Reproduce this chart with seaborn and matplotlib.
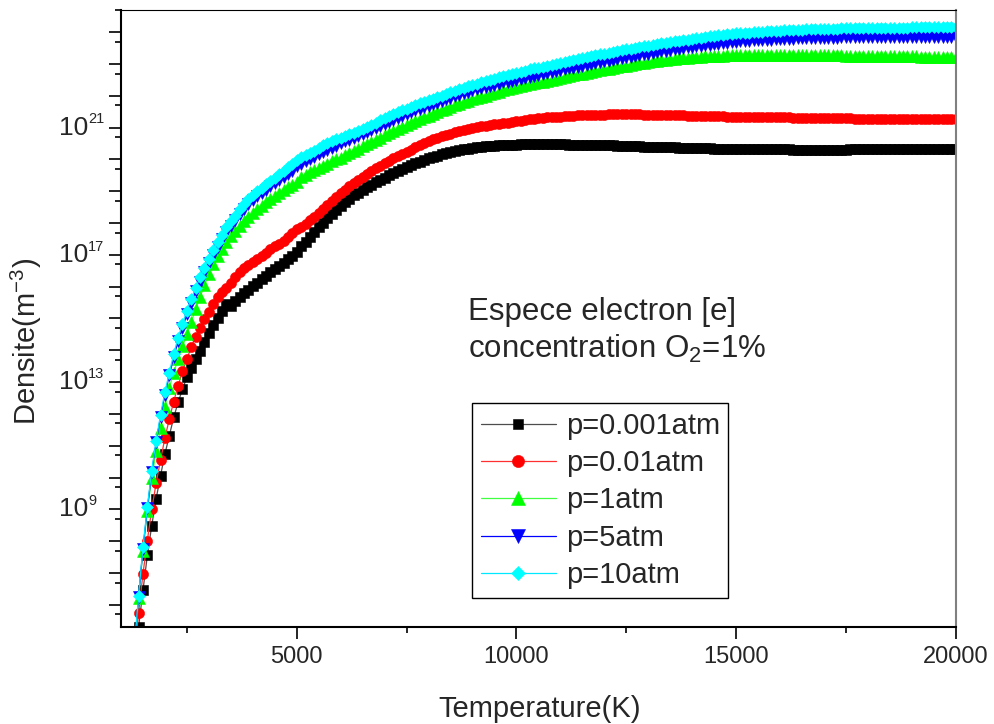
import math
import matplotlib
matplotlib.use("Agg")
import matplotlib.pyplot as plt
import matplotlib.transforms as mtransforms
import seaborn as sns
from matplotlib.ticker import FixedLocator, FuncFormatter, NullFormatter

# ---------------- data (log10 of electron density, m^-3) ----------------
temperature_K = list(range(1300, 20001, 100))

log_p0001 = [
    3.80, 5.29, 6.45, 7.55, 8.49, 9.33, 10.06,
    10.74, 11.32, 11.89, 12.36, 12.78, 13.15, 13.43, 13.72, 13.99, 14.25,
    14.53, 14.79, 15.03, 15.24, 15.45, 15.40, 15.56, 15.68, 15.80, 15.91,
    16.02, 16.13, 16.24, 16.35, 16.45, 16.55, 16.65, 16.76, 16.87, 16.98,
    17.10, 17.28, 17.42, 17.57, 17.72, 17.87, 18.01, 18.15, 18.28, 18.41,
    18.54, 18.66, 18.77, 18.87, 18.96, 19.05, 19.13, 19.21, 19.29, 19.36,
    19.43, 19.50, 19.57, 19.64, 19.71, 19.77, 19.83, 19.88, 19.93, 19.98,
    20.03, 20.08, 20.12, 20.16, 20.20, 20.23, 20.26, 20.29, 20.32, 20.34,
    20.36, 20.38, 20.40, 20.41, 20.42, 20.43, 20.44, 20.45, 20.46, 20.47,
    20.47, 20.48, 20.48, 20.49, 20.49, 20.49, 20.49, 20.49, 20.49, 20.48,
    20.48, 20.48, 20.47, 20.47, 20.47, 20.46, 20.46, 20.46, 20.45, 20.45,
    20.45, 20.44, 20.44, 20.43, 20.43, 20.42, 20.42, 20.41, 20.41, 20.40,
    20.40, 20.40, 20.39, 20.39, 20.38, 20.38, 20.38, 20.37, 20.37, 20.36,
    20.36, 20.36, 20.35, 20.35, 20.35, 20.34, 20.34, 20.34, 20.34, 20.33,
    20.33, 20.33, 20.33, 20.33, 20.32, 20.32, 20.32, 20.32, 20.32, 20.32,
    20.32, 20.32, 20.32, 20.31, 20.31, 20.31, 20.31, 20.31, 20.31, 20.31,
    20.31, 20.31, 20.31, 20.31, 20.31, 20.31, 20.32, 20.32, 20.32, 20.32,
    20.32, 20.32, 20.32, 20.32, 20.32, 20.32, 20.32, 20.32, 20.32, 20.32,
    20.32, 20.32, 20.32, 20.32, 20.32, 20.32, 20.32, 20.32, 20.32, 20.32,
    20.32,
]

log_p001 = [
    4.30, 5.74, 6.97, 8.02, 9.01, 9.82, 10.55,
    11.24, 11.84, 12.39, 12.89, 13.34, 13.72, 14.11, 14.43, 14.70, 14.98,
    15.19, 15.45, 15.66, 15.82, 15.97, 16.13, 16.30, 16.45, 16.58, 16.68,
    16.77, 16.87, 16.97, 17.07, 17.17, 17.27, 17.35, 17.43, 17.55, 17.68,
    17.80, 17.88, 17.98, 18.09, 18.20, 18.32, 18.44, 18.56, 18.70, 18.82,
    18.94, 19.05, 19.16, 19.26, 19.36, 19.46, 19.55, 19.64, 19.72, 19.80,
    19.88, 19.96, 20.03, 20.10, 20.17, 20.24, 20.31, 20.38, 20.45, 20.51,
    20.57, 20.63, 20.68, 20.73, 20.77, 20.81, 20.85, 20.89, 20.93, 20.96,
    20.99, 21.02, 21.04, 21.06, 21.08, 21.10, 21.12, 21.14, 21.16, 21.18,
    21.20, 21.22, 21.24, 21.26, 21.28, 21.29, 21.31, 21.32, 21.33, 21.34,
    21.35, 21.36, 21.37, 21.38, 21.39, 21.39, 21.40, 21.40, 21.41, 21.41,
    21.41, 21.42, 21.42, 21.42, 21.42, 21.42, 21.42, 21.42, 21.42, 21.41,
    21.41, 21.41, 21.41, 21.40, 21.40, 21.40, 21.39, 21.39, 21.39, 21.38,
    21.38, 21.38, 21.37, 21.37, 21.37, 21.36, 21.36, 21.36, 21.35, 21.35,
    21.35, 21.35, 21.34, 21.34, 21.34, 21.33, 21.33, 21.33, 21.33, 21.32,
    21.32, 21.32, 21.32, 21.31, 21.31, 21.31, 21.31, 21.30, 21.30, 21.30,
    21.30, 21.30, 21.29, 21.29, 21.29, 21.29, 21.29, 21.28, 21.28, 21.28,
    21.28, 21.28, 21.28, 21.28, 21.27, 21.27, 21.27, 21.27, 21.27, 21.27,
    21.27, 21.27, 21.27, 21.27, 21.27, 21.27, 21.27, 21.27, 21.27, 21.27,
    21.27,
]

log_p1 = [
    4.50, 6.20, 7.70, 8.95, 9.98, 10.82, 11.56,
    12.22, 12.83, 13.30, 13.72, 14.12, 14.50, 14.90, 15.30, 15.68, 16.04,
    16.40, 16.70, 16.97, 17.20, 17.40, 17.58, 17.75, 17.92, 18.07, 18.20,
    18.32, 18.44, 18.55, 18.65, 18.75, 18.85, 18.95, 19.04, 19.12, 19.20,
    19.28, 19.45, 19.52, 19.59, 19.66, 19.73, 19.80, 19.87, 19.94, 20.00,
    20.06, 20.13, 20.20, 20.27, 20.34, 20.41, 20.48, 20.55, 20.62, 20.69,
    20.76, 20.83, 20.90, 20.96, 21.02, 21.08, 21.14, 21.20, 21.26, 21.32,
    21.38, 21.44, 21.50, 21.55, 21.60, 21.65, 21.70, 21.75, 21.80, 21.85,
    21.89, 21.93, 21.97, 22.01, 22.05, 22.09, 22.13, 22.17, 22.20, 22.24,
    22.27, 22.30, 22.33, 22.36, 22.39, 22.42, 22.45, 22.48, 22.51, 22.54,
    22.57, 22.60, 22.63, 22.65, 22.68, 22.70, 22.73, 22.76, 22.78, 22.80,
    22.83, 22.85, 22.88, 22.90, 22.93, 22.95, 22.97, 23.00, 23.02, 23.04,
    23.06, 23.08, 23.10, 23.12, 23.13, 23.15, 23.16, 23.18, 23.19, 23.20,
    23.21, 23.22, 23.23, 23.24, 23.25, 23.25, 23.26, 23.26, 23.27, 23.27,
    23.28, 23.28, 23.28, 23.28, 23.29, 23.29, 23.29, 23.29, 23.29, 23.29,
    23.29, 23.29, 23.29, 23.29, 23.29, 23.28, 23.28, 23.28, 23.28, 23.28,
    23.28, 23.27, 23.27, 23.27, 23.27, 23.26, 23.26, 23.26, 23.26, 23.26,
    23.25, 23.25, 23.25, 23.25, 23.25, 23.24, 23.24, 23.24, 23.24, 23.24,
    23.24, 23.24, 23.23, 23.23, 23.23, 23.23, 23.23, 23.23, 23.23, 23.23,
    23.23,
]

log_p5 = [
    4.55, 6.24, 7.76, 9.03, 10.17, 11.11, 11.91,
    12.60, 13.21, 13.78, 14.29, 14.71, 15.13, 15.50, 15.85, 16.16, 16.46,
    16.75, 17.01, 17.26, 17.49, 17.72, 17.92, 18.10, 18.30, 18.45, 18.59,
    18.72, 18.84, 18.94, 19.05, 19.15, 19.25, 19.35, 19.45, 19.55, 19.65,
    19.78, 19.87, 19.94, 20.01, 20.08, 20.16, 20.24, 20.31, 20.37, 20.43,
    20.51, 20.57, 20.62, 20.67, 20.73, 20.79, 20.85, 20.92, 20.99, 21.06,
    21.13, 21.19, 21.25, 21.31, 21.37, 21.43, 21.48, 21.54, 21.59, 21.64,
    21.69, 21.74, 21.79, 21.84, 21.89, 21.94, 21.99, 22.04, 22.08, 22.13,
    22.17, 22.21, 22.24, 22.28, 22.31, 22.35, 22.38, 22.42, 22.45, 22.48,
    22.51, 22.54, 22.57, 22.60, 22.63, 22.66, 22.69, 22.72, 22.75, 22.78,
    22.80, 22.83, 22.86, 22.89, 22.92, 22.95, 22.97, 23.00, 23.03, 23.05,
    23.08, 23.11, 23.13, 23.16, 23.18, 23.21, 23.23, 23.26, 23.28, 23.31,
    23.33, 23.35, 23.37, 23.40, 23.42, 23.44, 23.46, 23.48, 23.50, 23.52,
    23.54, 23.56, 23.57, 23.59, 23.61, 23.63, 23.64, 23.66, 23.67, 23.69,
    23.70, 23.71, 23.72, 23.73, 23.74, 23.75, 23.76, 23.76, 23.77, 23.78,
    23.78, 23.79, 23.80, 23.80, 23.81, 23.81, 23.81, 23.82, 23.82, 23.82,
    23.83, 23.83, 23.83, 23.83, 23.84, 23.84, 23.84, 23.84, 23.84, 23.84,
    23.85, 23.85, 23.85, 23.85, 23.85, 23.85, 23.85, 23.85, 23.85, 23.85,
    23.85, 23.85, 23.85, 23.85, 23.85, 23.85, 23.85, 23.85, 23.85, 23.85,
    23.85,
]

log_p10 = [
    4.60, 6.29, 7.81, 9.08, 10.22, 11.16, 11.97,
    12.68, 13.30, 13.88, 14.40, 14.82, 15.25, 15.62, 15.97, 16.29, 16.59,
    16.88, 17.15, 17.40, 17.64, 17.87, 18.07, 18.22, 18.45, 18.61, 18.75,
    18.88, 19.00, 19.11, 19.22, 19.33, 19.43, 19.54, 19.64, 19.75, 19.86,
    19.98, 20.07, 20.14, 20.21, 20.28, 20.36, 20.44, 20.51, 20.57, 20.63,
    20.69, 20.74, 20.79, 20.84, 20.90, 20.96, 21.02, 21.09, 21.16, 21.23,
    21.30, 21.36, 21.42, 21.48, 21.54, 21.60, 21.65, 21.71, 21.76, 21.81,
    21.86, 21.91, 21.96, 22.01, 22.06, 22.11, 22.16, 22.21, 22.25, 22.30,
    22.34, 22.38, 22.42, 22.46, 22.50, 22.54, 22.58, 22.62, 22.65, 22.69,
    22.72, 22.76, 22.79, 22.83, 22.86, 22.89, 22.92, 22.95, 22.98, 23.01,
    23.04, 23.07, 23.10, 23.13, 23.16, 23.19, 23.22, 23.25, 23.28, 23.30,
    23.33, 23.36, 23.38, 23.41, 23.43, 23.46, 23.48, 23.51, 23.53, 23.56,
    23.58, 23.60, 23.62, 23.65, 23.67, 23.69, 23.71, 23.73, 23.75, 23.77,
    23.79, 23.81, 23.83, 23.85, 23.87, 23.89, 23.90, 23.92, 23.93, 23.95,
    23.96, 23.97, 23.98, 23.99, 24.00, 24.01, 24.02, 24.03, 24.04, 24.05,
    24.05, 24.06, 24.07, 24.07, 24.08, 24.08, 24.09, 24.09, 24.10, 24.10,
    24.10, 24.11, 24.11, 24.11, 24.12, 24.12, 24.12, 24.12, 24.13, 24.13,
    24.13, 24.13, 24.13, 24.14, 24.14, 24.14, 24.14, 24.14, 24.14, 24.14,
    24.15, 24.15, 24.15, 24.15, 24.15, 24.15, 24.15, 24.15, 24.15, 24.15,
    24.15,
]

series_labels = ["p=0.001atm", "p=0.01atm", "p=1atm", "p=5atm", "p=10atm"]
series_logs = [log_p0001, log_p001, log_p1, log_p5, log_p10]

x_major = [5000, 10000, 15000, 20000]
x_minor = [2500, 7500, 12500, 17500]
y_labelled_exponents = [9, 13, 17, 21]

# ---------------- style ----------------
sns.set_style("ticks")
plt.rcParams["font.family"] = ["Liberation Sans", "DejaVu Sans"]
plt.rcParams["mathtext.fontset"] = "custom"
plt.rcParams["mathtext.rm"] = "Liberation Sans"
plt.rcParams["mathtext.it"] = "Liberation Sans:italic"
plt.rcParams["mathtext.bf"] = "Liberation Sans:bold"

marker_styles = ["s", "o", "^", "v", "D"]
marker_colors = ["#000000", "#ff0000", "#00ff00", "#0000ff", "#00ffff"]
line_colors = ["#4d4d4d", "#ff3030", "#40ff40", "#0000ff", "#00e8ff"]
marker_sizes = [6.5, 7.3, 8.0, 8.0, 6.0]

fig = plt.figure(figsize=(9.95, 7.24), dpi=100)
ax = fig.add_axes([0.1216, 0.1340, 0.8389, 0.8522])

for label, logs, mk, mc, lc, ms in zip(series_labels, series_logs, marker_styles,
                                       marker_colors, line_colors, marker_sizes):
    dens = [10.0 ** v for v in logs]
    sns.lineplot(x=temperature_K, y=dens, ax=ax, color=lc, linewidth=0.9,
                 marker=mk, markersize=ms, markerfacecolor=mc,
                 markeredgecolor=mc, markeredgewidth=0.4,
                 label=label, estimator=None, sort=False)

ax.set_yscale("log")
ax.set_xlim(1000, 20000)
ax.set_ylim(2e5, 5e24)

ax.xaxis.set_major_locator(FixedLocator(x_major))
ax.xaxis.set_minor_locator(FixedLocator(x_minor))
ax.xaxis.set_major_formatter(FuncFormatter(lambda v, p: f"{int(v)}"))

ax.yaxis.set_major_locator(FixedLocator([10.0 ** k for k in range(6, 25)]))
ax.yaxis.set_minor_locator(FixedLocator([5 * 10.0 ** k for k in range(5, 25)]))
ax.yaxis.set_major_formatter(NullFormatter())
ax.yaxis.set_minor_formatter(NullFormatter())

# Origin-style "10" with a small superscript exponent as y tick labels
ytrans = mtransforms.blended_transform_factory(ax.transAxes, ax.transData)
sup_trans = mtransforms.offset_copy(ytrans, fig=fig, x=0, y=6.0, units="points")
for k in y_labelled_exponents:
    ax.text(-0.0395, 10.0 ** k, "10", transform=ytrans, fontsize=19,
            ha="right", va="center", clip_on=False)
    ax.text(-0.0395, 10.0 ** k, f"{k}", transform=sup_trans, fontsize=10.5,
            ha="left", va="center", clip_on=False)

ax.tick_params(axis="both", which="major", direction="out", length=8.6,
               width=1.2, labelsize=17, color="black")
ax.tick_params(axis="both", which="minor", direction="out", length=4.6,
               width=1.2, color="black")
ax.tick_params(axis="x", which="major", pad=5)
ax.tick_params(top=False, right=False, which="both")

for side in ["left", "bottom"]:
    ax.spines[side].set_linewidth(1.5)
    ax.spines[side].set_color("black")
ax.spines["top"].set_linewidth(0.8)
ax.spines["top"].set_color("black")
ax.spines["right"].set_linewidth(1.5)
ax.spines["right"].set_color("#808080")

ax.set_xlabel("Temperature(K)", fontsize=21)
ax.xaxis.set_label_coords(0.502, -0.146)
ax.xaxis.label.set_verticalalignment("baseline")
ax.set_ylabel(r"Densite(m$^{-3}$)", fontsize=21)
ax.yaxis.set_label_coords(-0.092, 0.4635)

ax.text(0.4157, 0.4976, "Espece electron [e]", transform=ax.transAxes,
        fontsize=22.5, ha="left", va="baseline")
ax.text(0.4157, 0.436, r"concentration O$_2$=1%", transform=ax.transAxes,
        fontsize=22.5, ha="left", va="baseline")

handles, labels = ax.get_legend_handles_labels()
leg = ax.legend(handles, labels, loc="upper left",
                bbox_to_anchor=(0.4205, 0.363), borderaxespad=0,
                fontsize=21, frameon=True, fancybox=False, framealpha=1,
                edgecolor="black", handlelength=2.57, handletextpad=0.34,
                labelspacing=0.32, borderpad=0.3, numpoints=1,
                markerscale=1.2)
leg.get_frame().set_linewidth(1.0)

fig.savefig("out.png", dpi=100)
